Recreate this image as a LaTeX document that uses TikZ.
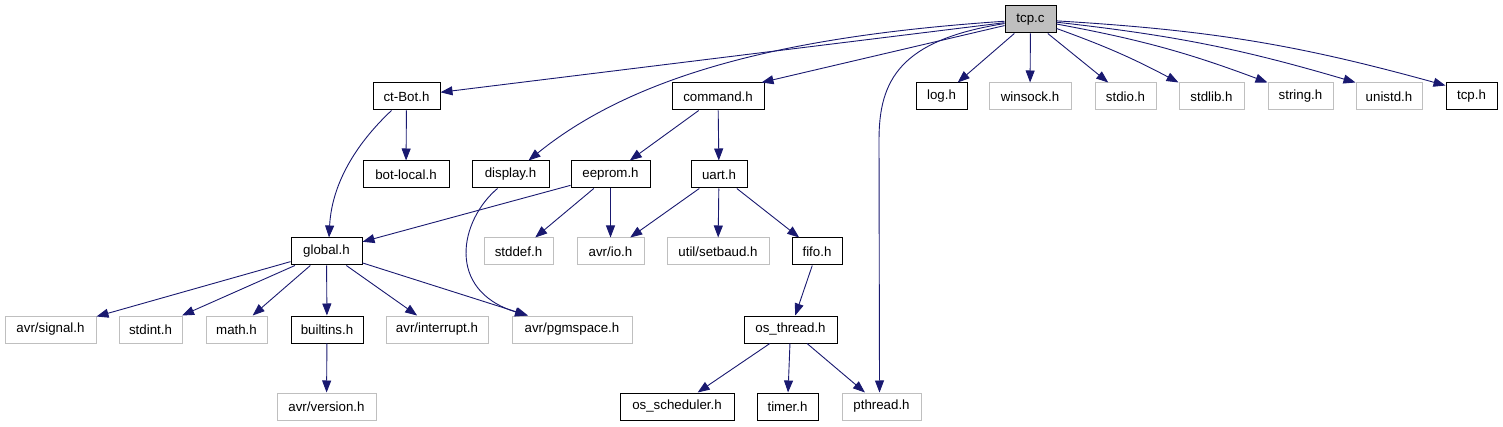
\documentclass[tikz,border=0pt]{standalone}
\usepackage{fontspec}
\setmainfont{Liberation Sans}
\usetikzlibrary{arrows.meta}
\definecolor{edgeblue}{RGB}{25,25,112}
\definecolor{lgray}{RGB}{191,191,191}
\definecolor{dgray}{RGB}{64,64,64}
\begin{document}
\begin{tikzpicture}[x=1pt,y=-1pt,
  base/.style={rectangle, minimum height=27pt, inner sep=0pt, line width=1pt,
    font=\fontsize{13.3}{15}\selectfont, text=black},
  bb/.style={base, draw=black},
  gb/.style={base, draw=lgray},
  edge/.style={draw=edgeblue, line width=0.9pt, -{Triangle[length=12pt,width=9pt]}, fill=none}
]
\useasboundingbox (0,0) rectangle (1503,427);
% top
\node[bb, fill=lgray, minimum width=51pt] (tcpc) at (1030.5,19.5) {tcp.c};
% row 1
\node[bb, minimum width=67pt] (ctbot) at (406.5,96.5) {ct-Bot.h};
\node[bb, minimum width=92pt] (command) at (718,96.5) {command.h};
\node[bb, minimum width=51pt] (logh) at (941.5,96.5) {log.h};
\node[gb, minimum width=82pt] (winsock) at (1030,96.5) {winsock.h};
\node[gb, minimum width=61pt] (stdioh) at (1125.5,96.5) {stdio.h};
\node[gb, minimum width=65pt] (stdlibh) at (1211.5,96.5) {stdlib.h};
\node[gb, minimum width=65pt] (stringh) at (1300.5,96.5) {string.h};
\node[gb, minimum width=66pt] (unistdh) at (1389,96.5) {unistd.h};
\node[bb, minimum width=51pt] (tcph) at (1471.5,96.5) {tcp.h};
% row 2
\node[bb, minimum width=86pt] (botlocal) at (406,174.5) {bot-local.h};
\node[bb, minimum width=77pt] (display) at (510.5,174.5) {display.h};
\node[bb, minimum width=79pt] (eeprom) at (610.5,174.5) {eeprom.h};
\node[bb, minimum width=56pt] (uart) at (719,174.5) {uart.h};
% row 3
\node[bb, minimum width=71pt] (global) at (326.5,251.5) {global.h};
\node[gb, minimum width=69pt] (stddef) at (518.5,251.5) {stddef.h};
\node[gb, minimum width=67pt] (avrio) at (610.5,251.5) {avr/io.h};
\node[gb, minimum width=102pt] (setbaud) at (718,251.5) {util/setbaud.h};
\node[bb, minimum width=50pt] (fifo) at (817,251.5) {fifo.h};
% row 4
\node[gb, minimum width=91pt] (signal) at (50.5,329.5) {avr/signal.h};
\node[gb, minimum width=63pt] (stdint) at (150.5,329.5) {stdint.h};
\node[gb, minimum width=61pt] (mathh) at (236.5,329.5) {math.h};
\node[bb, minimum width=72pt] (builtins) at (327,329.5) {builtins.h};
\node[gb, minimum width=102pt] (interrupt) at (437,329.5) {avr/interrupt.h};
\node[gb, minimum width=120pt] (pgmspace) at (572,329.5) {avr/pgmspace.h};
\node[bb, minimum width=93pt] (osthread) at (790.5,329.5) {os\_thread.h};
% row 5
\node[gb, minimum width=99pt] (version) at (326.5,406.5) {avr/version.h};
\node[bb, minimum width=114pt] (sched) at (677,406.5) {os\_scheduler.h};
\node[bb, minimum width=61pt] (timer) at (787.5,406.5) {timer.h};
\node[gb, minimum width=79pt] (pthread) at (881.5,406.5) {pthread.h};

% edges from tcp.c
\draw[edge] (tcpc) -- (ctbot);
\draw[edge] (tcpc) .. controls (800,35) and (640,70) .. ([xshift=18pt]display.north);
\draw[edge] (tcpc) -- ([xshift=-3pt]command.north east);
\draw[edge] (tcpc) -- (logh);
\draw[edge] (tcpc) -- (winsock);
\draw[edge] (tcpc) -- (stdioh);
\draw[edge] (tcpc) to[bend left=4] (stdlibh.north west);
\draw[edge] (tcpc) to[bend left=5] (stringh.north west);
\draw[edge] (tcpc) to[bend left=5] (unistdh.north west);
\draw[edge] (tcpc) to[bend left=6] ([yshift=-3pt]tcph.north west);
\draw[edge] (tcpc) .. controls (900,40) and (879,80) .. (879,140) -- ([xshift=-2pt]pthread.north);
% ct-Bot.h
\draw[edge] (ctbot) -- (botlocal);
\draw[edge] ([xshift=-15pt]ctbot.south) .. controls (360,140) and (332,180) .. ([xshift=2.5pt]global.north);
% command.h
\draw[edge] (command) -- (eeprom);
\draw[edge] (command) -- (uart);
% display.h
\draw[edge] ([xshift=-13pt]display.south) .. controls (460,220) and (445,290) .. ([xshift=-45pt]pgmspace.north);
% eeprom.h
\draw[edge] (eeprom) -- (global);
\draw[edge] (eeprom) -- (stddef);
\draw[edge] (eeprom) -- (avrio);
% uart.h
\draw[edge] (uart) -- (avrio);
\draw[edge] (uart) -- (setbaud);
\draw[edge] (uart) -- (fifo);
% fifo.h
\draw[edge] (fifo) -- (osthread);
% os_thread.h
\draw[edge] (osthread) -- (sched);
\draw[edge] (osthread) -- (timer);
\draw[edge] (osthread) -- (pthread);
% global.h
\draw[edge] (global) -- (signal);
\draw[edge] (global) -- (stdint);
\draw[edge] (global) -- (mathh);
\draw[edge] (global) -- (builtins);
\draw[edge] (global) -- (interrupt);
\draw[edge] (global) -- (pgmspace);
% builtins.h
\draw[edge] (builtins) -- (version);
\end{tikzpicture}
\end{document}
